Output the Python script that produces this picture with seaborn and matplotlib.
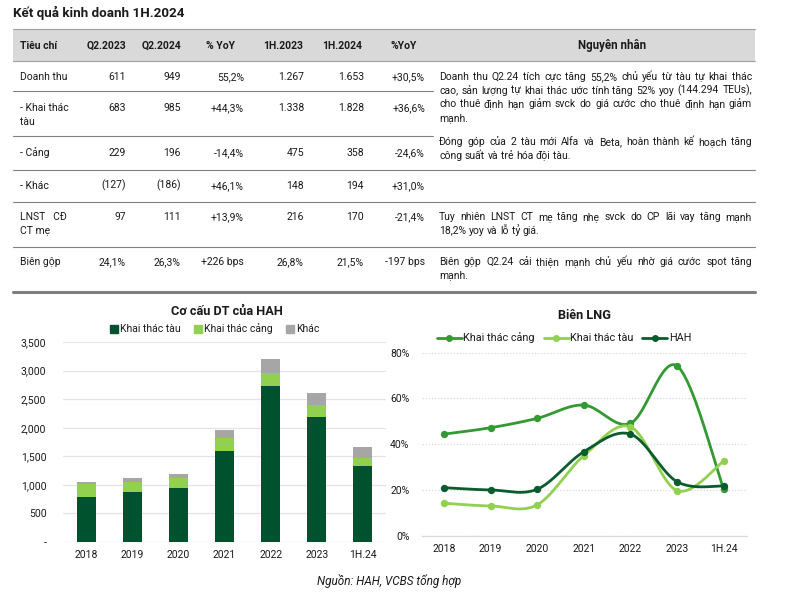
import numpy as np
import pandas as pd
import matplotlib
matplotlib.use("Agg")
import matplotlib.pyplot as plt
import seaborn as sns
from matplotlib.patches import Patch, Rectangle
from matplotlib.lines import Line2D

sns.set_theme(style="white")
plt.rcParams['font.family'] = ['Roboto', 'Noto Sans', 'DejaVu Sans']

# ---------------- data ----------------
title_text = "Kết quả kinh doanh 1H.2024"
table_headers = ["Tiêu chí", "Q2.2023", "Q2.2024", "% YoY", "1H.2023", "1H.2024", "%YoY", "Nguyên nhân"]
row_labels = [["Doanh thu"], ["- Khai thác", "tàu"], ["- Cảng"], ["- Khác"], ["LNST   CĐ", "CT mẹ"], ["Biên gộp"]]
q2_2023 = ["611", "683", "229", "(127)", "97", "24,1%"]
q2_2024 = ["949", "985", "196", "(186)", "111", "26,3%"]
q2_yoy = ["55,2%", "+44,3%", "-14,4%", "+46,1%", "+13,9%", "+226 bps"]
h1_2023 = ["1.267", "1.338", "475", "148", "216", "26,8%"]
h1_2024 = ["1.653", "1.828", "358", "194", "170", "21,5%"]
h1_yoy = ["+30,5%", "+36,6%", "-24,6%", "+31,0%", "-21,4%", "-197 bps"]

reason_1 = ["Doanh thu Q2.24 tích cực tăng 55,2% chủ yếu từ tàu tự khai thác",
            "cao, sản lượng tự khai thác ước tính tăng 52% yoy (144.294 TEUs),",
            "cho thuê định hạn giảm svck do giá cước cho thuê định hạn giảm",
            "mạnh."]
reason_2 = ["Đóng góp của 2 tàu mới Alfa và Beta, hoàn thành kế hoạch tăng",
            "công suất và trẻ hóa đội tàu."]
reason_3 = ["Tuy nhiên LNST CT mẹ tăng nhẹ svck do CP lãi vay tăng mạnh",
            "18,2% yoy và lỗ tỷ giá."]
reason_4 = ["Biên gộp Q2.24 cải thiện mạnh chủ yếu nhờ giá cước spot tăng",
            "mạnh."]

years = ["2018", "2019", "2020", "2021", "2022", "2023", "1H.24"]
rev_tau = [790, 880, 945, 1600, 2730, 2190, 1330]
rev_cang = [220, 170, 180, 220, 220, 200, 135]
rev_khac = [45, 65, 70, 140, 250, 220, 190]
rev_ticks = [0, 500, 1000, 1500, 2000, 2500, 3000, 3500]
rev_tick_labels = ["-", "500", "1,000", "1,500", "2,000", "2,500", "3,000", "3,500"]

margin_cang = [44.4, 47.2, 51.3, 57.1, 49.1, 74.2, 20.3]
margin_tau = [14.2, 13.0, 13.5, 35.0, 47.6, 19.7, 32.6]
margin_hah = [21.0, 20.0, 20.3, 36.7, 44.4, 23.6, 21.7]
margin_ticks = [0, 20, 40, 60, 80]

# ---------------- colours ----------------
C_DARK = "#00512e"
C_LIGHT = "#92d050"
C_GRAY = "#a6a6a6"
C_MID = "#339933"
C_HAH = "#0a5c2e"
TXT = "#1a1a1a"

W, H = 785, 595
fig = plt.figure(figsize=(W / 100, H / 100), dpi=100)
fig.patch.set_facecolor("white")

bg = fig.add_axes([0, 0, 1, 1], zorder=0)
bg.set_xlim(0, W)
bg.set_ylim(H, 0)
bg.axis("off")
renderer = fig.canvas.get_renderer()

FS = 7.5


def T(x, yc, s, fs=FS, **kw):
    """Place text so that its visual middle sits at yc (pixel coords)."""
    off = 0.36 * fs * 100 / 72
    return bg.text(x, yc + off, s, fontsize=fs, va="baseline", color=TXT, **kw)


T(13, 12, title_text, fs=9.6, fontweight="bold", ha="left")

# header band
bg.add_patch(Rectangle((13, 29), 742, 32, facecolor="#d9d9d9", edgecolor="none"))
bg.plot([13, 755], [29, 29], color="#a0a0a0", lw=0.8)
bg.plot([13, 755], [61, 61], color="#a0a0a0", lw=0.8)

hy = 45
col_right = [126, 181, 244, 304, 364, 425]
header_pos = [(20, "left"), (126, "right"), (181, "right"), (220, "center"),
              (303, "right"), (362, "right"), (404, "center"), (612, "center")]
for (x, ha), t in zip(header_pos, table_headers):
    T(x, hy, t, fs=FS if t != "Nguyên nhân" else 8.3, fontweight="bold", ha=ha)

row_y = [76, 107, 152, 185, 216, 261]
line_dy = 13.8
cols = [q2_2023, q2_2024, q2_yoy, h1_2023, h1_2024, h1_yoy]
for i, y in enumerate(row_y):
    for k, ln in enumerate(row_labels[i]):
        T(20, y + k * line_dy, ln, ha="left")
    for xr, col in zip(col_right, cols):
        T(xr, y, col[i], ha="right")

# separators
for y, x1 in [(91, 433), (136, 433), (170, 755), (202, 755), (247, 755)]:
    bg.plot([13, x1], [y, y], color="#808080", lw=0.8)
bg.plot([13, 755], [292, 292], color="#7f7f7f", lw=2.2)


def text_width(s):
    t = bg.text(0, 0, s, fontsize=FS)
    w = t.get_window_extent(renderer).width
    t.remove()
    return w


space_w = text_width("x x") - text_width("xx")


def draw_justified(lines, x0, x1, y0):
    for li, line in enumerate(lines):
        y = y0 + li * line_dy
        words = line.split(" ")
        texts = [T(0, y, w, ha="left") for w in words]
        widths = [t.get_window_extent(renderer).width for t in texts]
        if li == len(lines) - 1 or len(words) == 1:
            gap = space_w
        else:
            gap = (x1 - x0 - sum(widths)) / (len(words) - 1)
        x = x0
        for t, w in zip(texts, widths):
            t.set_x(x)
            x += w + gap


RX0, RX1 = 439, 752
draw_justified(reason_1, RX0, RX1, 76)
draw_justified(reason_2, RX0, RX1, 141)
draw_justified(reason_3, RX0, RX1, 216)
draw_justified(reason_4, RX0, RX1, 261)


def fig_rect(x0, y_top, x1, y_bot):
    return [x0 / W, 1 - y_bot / H, (x1 - x0) / W, (y_bot - y_top) / H]


# ---------------- left chart: stacked bars ----------------
ax1 = fig.add_axes(fig_rect(63, 342, 386, 542), zorder=2)
ax1.patch.set_alpha(0)
df = pd.DataFrame({"year": years, "tau": rev_tau, "cang": rev_cang, "khac": rev_khac})
df["lvl2"] = df["tau"] + df["cang"]
df["lvl3"] = df["lvl2"] + df["khac"]
bw = 0.41
sns.barplot(data=df, x="year", y="lvl3", color=C_GRAY, saturation=1, width=bw, linewidth=0, ax=ax1, zorder=3)
sns.barplot(data=df, x="year", y="lvl2", color=C_LIGHT, saturation=1, width=bw, linewidth=0, ax=ax1, zorder=3)
sns.barplot(data=df, x="year", y="tau", color=C_DARK, saturation=1, width=bw, linewidth=0, ax=ax1, zorder=3)
ax1.set_ylim(0, 3500)
ax1.set_xlim(-0.5, len(years) - 0.5)
ax1.set_yticks(rev_ticks)
ax1.set_yticklabels(rev_tick_labels)
ax1.set_xlabel("")
ax1.set_ylabel("")
ax1.grid(axis="y", color="#e3e3e3", lw=0.9)
ax1.set_axisbelow(True)
for s in ax1.spines.values():
    s.set_visible(False)
ax1.tick_params(axis="y", length=0, pad=12, labelsize=FS, labelcolor=TXT)
ax1.tick_params(axis="x", length=0, pad=6, labelsize=FS, labelcolor=TXT)
T(227, 310, "Cơ cấu DT của HAH", fs=9.2, fontweight="bold", ha="center")
h1 = [Patch(color=C_DARK), Patch(color=C_LIGHT), Patch(color=C_GRAY)]
fig.legend(h1, ["Khai thác tàu", "Khai thác cảng", "Khác"], loc="center",
           bbox_to_anchor=(215 / W, 1 - 329 / H), ncol=3, frameon=False, fontsize=FS,
           handlelength=0.75, handleheight=0.75, handletextpad=0.2, columnspacing=1.3,
           borderpad=0, labelcolor=TXT)

# ---------------- right chart: smoothed lines ----------------
ax2 = fig.add_axes(fig_rect(422, 352.7, 747, 535.7), zorder=2)
ax2.patch.set_alpha(0)
xs = np.arange(len(years), dtype=float)


def excel_smooth(xv, yv, n=40):
    pts = np.column_stack([xv, yv])
    out = []
    for i in range(len(pts) - 1):
        p0 = pts[i - 1] if i > 0 else pts[i]
        p1, p2 = pts[i], pts[i + 1]
        p3 = pts[i + 2] if i + 2 < len(pts) else pts[i + 1]
        c1 = p1 + (p2 - p0) / 6.0
        c2 = p2 - (p3 - p1) / 6.0
        t = np.linspace(0, 1, n)[:, None]
        seg = (1 - t) ** 3 * p1 + 3 * (1 - t) ** 2 * t * c1 + 3 * (1 - t) * t ** 2 * c2 + t ** 3 * p2
        out.append(seg if i == 0 else seg[1:])
    return np.vstack(out)


series = [("Khai thác cảng", margin_cang, C_MID),
          ("Khai thác tàu", margin_tau, C_LIGHT),
          ("HAH", margin_hah, C_HAH)]
for name, vals, col in series:
    v = np.array(vals) / 100.0
    cur = excel_smooth(xs, v)
    ax2.plot(cur[:, 0], cur[:, 1], color=col, lw=2.0, solid_capstyle="round", zorder=3)
    sns.scatterplot(x=xs, y=v, color=col, s=28, edgecolor=col, linewidth=0, ax=ax2, zorder=4)

ax2.set_ylim(0, 0.8)
ax2.set_xlim(-0.47, len(years) - 0.5)
ax2.set_yticks([t / 100 for t in margin_ticks])
ax2.set_yticklabels([f"{t}%" for t in margin_ticks])
ax2.set_xticks(xs)
ax2.set_xticklabels(years)
ax2.grid(axis="y", color="#d9d9d9", lw=0.9, linestyle=(0, (1, 1.5)))
ax2.set_axisbelow(True)
for k, s in ax2.spines.items():
    s.set_visible(k == "bottom")
ax2.spines["bottom"].set_color("#d9d9d9")
ax2.spines["bottom"].set_linewidth(0.9)
ax2.tick_params(axis="y", length=0, pad=9, labelsize=FS, labelcolor=TXT)
ax2.tick_params(axis="x", length=0, pad=6, labelsize=FS, labelcolor=TXT)
T(585, 314, "Biên LNG", fs=9.2, fontweight="bold", ha="center")
h2 = [Line2D([0], [0], color=c, lw=2.0, marker="o", ms=4) for _, _, c in series]
fig.legend(h2, [n for n, _, _ in series], loc="center",
           bbox_to_anchor=(564 / W, 1 - 338 / H), ncol=3, frameon=False, fontsize=7.8,
           handlelength=2.3, handletextpad=0.15, columnspacing=0.8, borderpad=0, labelcolor=TXT)

T(389, 581, "Nguồn: HAH, VCBS tổng hợp", fs=8.5, style="italic", ha="center")

fig.savefig("out.png", dpi=100, facecolor="white")
